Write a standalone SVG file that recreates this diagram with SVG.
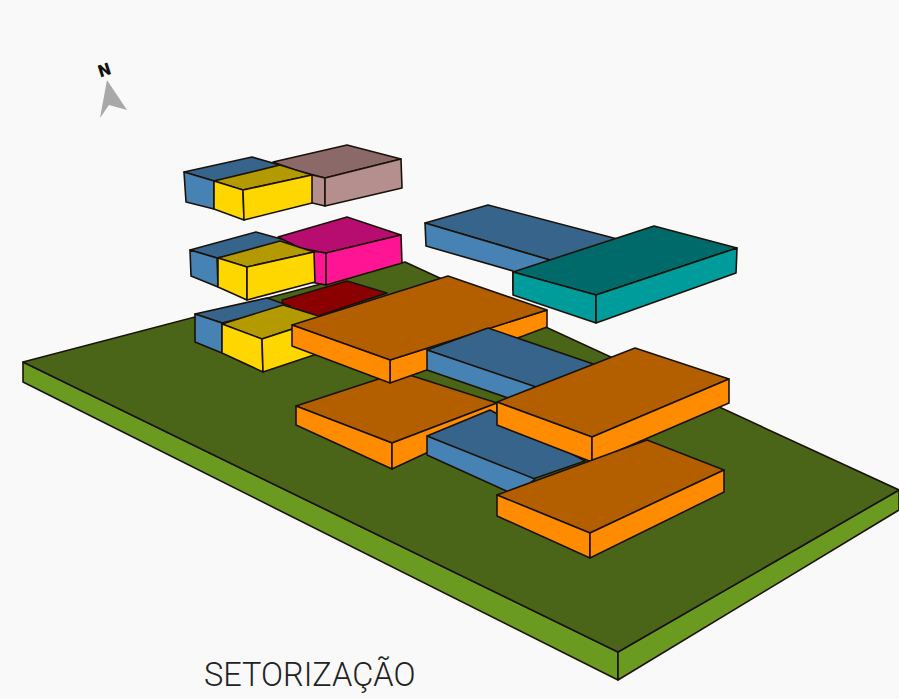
<svg xmlns="http://www.w3.org/2000/svg" width="899" height="699" viewBox="0 0 899 699">
<style>
polygon{stroke:#1a1208;stroke-width:1.6;stroke-linejoin:round}
.gt{fill:#4a6418}.gs{fill:#6a9a20}
.bt{fill:#36648b}.bs{fill:#4682b4}
.yt{fill:#b29a00}.ys{fill:#ffd700}
.mt{fill:#8b6969}.ms{fill:#b58e8e}
.pt{fill:#b80d70}.ps{fill:#ff1493}
.tt{fill:#006a6a}.ts{fill:#009c9c}
.ot{fill:#b35f00}.os{fill:#ff8c00}
.rt{fill:#8b0000}
text{font-family:"Roboto","Liberation Sans",sans-serif}
</style>
<rect width="899" height="699" fill="#f9f9f9"/>
<g id="site">
<polygon class="gs" points="23,362 618,652 618,680 23,382"/>
<polygon class="gs" points="618,652 899,490 899,510 618,680"/>
<polygon class="gt" points="23,362 405,262 899,490 618,652"/>
</g>
<g id="red"><polygon class="rt" points="282,300 347,281 387,293 318,316 283,305"/></g>
<g id="blue-bottom">
<polygon class="bt" points="195,314 267,298 290,306 222,323"/>
<polygon class="bs" points="195,314 222,323 222,353 195,342"/>
</g>
<g id="yellow-bottom">
<polygon class="yt" points="222,324 283,305 325,318 262,339"/>
<polygon class="ys" points="222,324 262,339 263,372 222,353"/>
<polygon class="ys" points="262,339 320,320 320,353 263,372"/>
</g>
<g id="blue-middle">
<polygon class="bt" points="190,250 256,232 292,242 217,258"/>
<polygon class="bs" points="190,250 217,258 218,287 191,276"/>
</g>
<g id="pink">
<polygon class="pt" points="278,237 347,217 401,235 326,253 300,248"/>
<polygon class="ps" points="310,251 326,253 326,285 310,282"/>
<polygon class="ps" points="326,253 401,235 402,263 326,285"/>
</g>
<g id="yellow-middle">
<polygon class="yt" points="218,258 280,241 314,252 247,267"/>
<polygon class="ys" points="218,258 247,267 247,300 218,287"/>
<polygon class="ys" points="247,267 314,252 315,282 247,300"/>
</g>
<g id="blue-top">
<polygon class="bt" points="184,172 252,157 290,168 214,181"/>
<polygon class="bs" points="184,172 214,181 214,209 186,202"/>
</g>
<g id="mauve">
<polygon class="mt" points="273,162 347,145 401,159 325,178 295,170"/>
<polygon class="ms" points="308,174 325,178 325,206 308,202"/>
<polygon class="ms" points="325,178 401,159 402,188 325,206"/>
</g>
<g id="yellow-top">
<polygon class="yt" points="214,181 280,165 312,175 243,190"/>
<polygon class="ys" points="214,181 243,190 244,220 214,209"/>
<polygon class="ys" points="243,190 312,175 312,203 244,220"/>
</g>
<g id="blue-large">
<polygon class="bt" points="425,223 488,205 625,241 560,263"/>
<polygon class="bs" points="425,223 560,263 513,290 513,271 426,246"/>
</g>
<g id="teal">
<polygon class="tt" points="513,272 654,226 737,248 596,295"/>
<polygon class="ts" points="513,272 596,295 596,323 513,295"/>
<polygon class="ts" points="596,295 737,248 736,273 596,323"/>
</g>
<g id="orange-mid">
<polygon class="ot" points="296,406 400,372 497,403 392,443"/>
<polygon class="os" points="296,406 392,443 392,469 296,425"/>
<polygon class="os" points="392,443 497,403 497,420 392,469"/>
</g>
<g id="blue-low">
<polygon class="bt" points="427,436 490,410 585,461 530,480"/>
<polygon class="bs" points="427,436 535,479 515,495 427,455"/>
</g>
<g id="orange-back">
<polygon class="os" points="390,360 547,310 547,327 523,336 390,383"/>
<polygon class="ot" points="292,325 448,276 547,310 390,360"/>
<polygon class="os" points="292,325 390,360 390,383 292,346"/>
</g>
<g id="blue-center">
<polygon class="bt" points="427,350 488,328 605,368 545,392"/>
<polygon class="bs" points="427,350 545,390 520,402 427,370"/>
</g>
<g id="orange-right">
<polygon class="ot" points="497,402 635,348 729,379 592,437"/>
<polygon class="os" points="497,402 592,437 592,462 497,425"/>
<polygon class="os" points="592,437 729,379 729,403 592,462"/>
</g>
<g id="orange-front">
<polygon class="ot" points="497,495 647,440 724,470 590,533"/>
<polygon class="os" points="497,495 590,533 590,558 497,516"/>
<polygon class="os" points="590,533 724,470 724,492 590,558"/>
</g>
<g id="north">
<polygon points="107,80 100,118 109,105 127,110" fill="#a8a8a8" style="stroke:none"/>
<text x="104" y="76" font-size="17" font-weight="900" fill="#111" text-anchor="middle" transform="rotate(-18 104 69)">N</text>
</g>
<g id="title"><text x="204" y="686" font-size="32.5" font-weight="300" fill="#222">SETORIZAÇÃO</text></g>
</svg>
